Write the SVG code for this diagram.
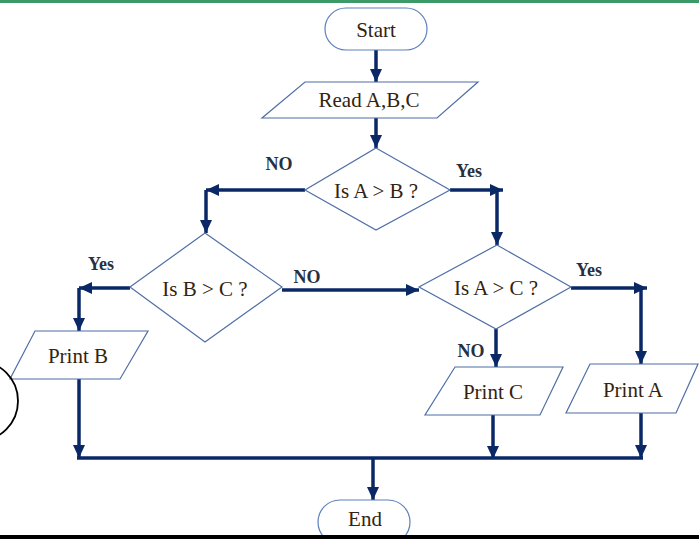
<svg xmlns="http://www.w3.org/2000/svg" width="699" height="539" viewBox="0 0 699 539">
<style>
.shape{fill:#fff;stroke:#4f6fa6;stroke-width:1.2}
.term{fill:#fff;stroke:#5c80bd;stroke-width:1.2}
.t{font-family:"Liberation Serif","Times New Roman",serif;font-size:21px;fill:#33230f;text-anchor:middle}
.lbl{font-family:"Liberation Serif","Times New Roman",serif;font-size:18px;font-weight:bold;fill:#28303d;text-anchor:middle}
.c{fill:none;stroke:#0b2866;stroke-width:3.5}
.ca{fill:none;stroke:#0b2866;stroke-width:3.5;marker-end:url(#ah)}
</style>
<defs>
<marker id="ah" markerUnits="userSpaceOnUse" markerWidth="14" markerHeight="14" viewBox="0 0 14 14" refX="13" refY="7" orient="auto">
<path d="M0,1 L13,7 L0,13 Z" fill="#0b2866"/>
</marker>
</defs>
<rect x="0" y="0" width="699" height="3" fill="#3c9a68"/>
<g id="connectors">
<line class="ca" x1="376" y1="50" x2="376" y2="82"/>
<line class="ca" x1="376" y1="118" x2="376" y2="148"/>
<polyline class="ca" points="305,190 206,190"/>
<polyline class="ca" points="206,190 206,233"/>
<polyline class="ca" points="450,190 503,190"/>
<polyline class="ca" points="497,190 497,245"/>
<polyline class="ca" points="130,288 79,288"/>
<polyline class="ca" points="79,288 79,331"/>
<polyline class="ca" points="282,290 419,290"/>
<polyline class="ca" points="571,288 647,288"/>
<polyline class="ca" points="641,288 641,364"/>
<polyline class="ca" points="496,329 496,367"/>
<polyline class="ca" points="79,379 79,458"/>
<polyline class="ca" points="493,415 493,459"/>
<polyline class="ca" points="641,413 641,458"/>
<line class="c" x1="77" y1="458" x2="643" y2="458" stroke-width="4"/>
<polyline class="ca" points="373,458 373,500"/>
</g>
<g id="start"><rect class="term" x="325" y="8" width="102" height="42" rx="21"/><text class="t" x="376" y="37" font-size="20">Start</text></g>
<g id="read"><polygon class="shape" points="305,82 478,82 437,118 262,118"/><text class="t" x="369" y="107">Read A,B,C</text></g>
<g id="isAB"><polygon class="shape" points="376,148 450,190 376,230 305,190"/><text class="t" x="376" y="198">Is A &gt; B ?</text></g>
<g id="isBC"><polygon class="shape" points="205,233 282,287 205,342 130,287"/><text class="t" x="205" y="296">Is B &gt; C ?</text></g>
<g id="isAC"><polygon class="shape" points="497,245 571,287 496,329 419,287"/><text class="t" x="496" y="295">Is A &gt; C ?</text></g>
<g id="printB"><polygon class="shape" points="35,331 148,331 120,379 10,379"/><text class="t" x="78" y="363">Print B</text></g>
<g id="printC"><polygon class="shape" points="455,367 563,367 540,415 425,415"/><text class="t" x="493" y="399">Print C</text></g>
<g id="printA"><polygon class="shape" points="590,364 698,364 676,413 566,413"/><text class="t" x="633" y="397">Print A</text></g>
<g id="end"><rect class="term" x="318" y="500" width="92" height="44" rx="22"/><text class="t" x="365" y="526" font-size="20">End</text></g>
<g id="labels">
<text class="lbl" x="279" y="170">NO</text>
<text class="lbl" x="469" y="177">Yes</text>
<text class="lbl" x="101" y="270">Yes</text>
<text class="lbl" x="307" y="283">NO</text>
<text class="lbl" x="589" y="276">Yes</text>
<text class="lbl" x="471" y="357">NO</text>
</g>
<circle cx="-22" cy="401" r="40" fill="none" stroke="#000" stroke-width="1.8"/>
<rect x="0" y="535" width="699" height="4" fill="#000"/>
</svg>
